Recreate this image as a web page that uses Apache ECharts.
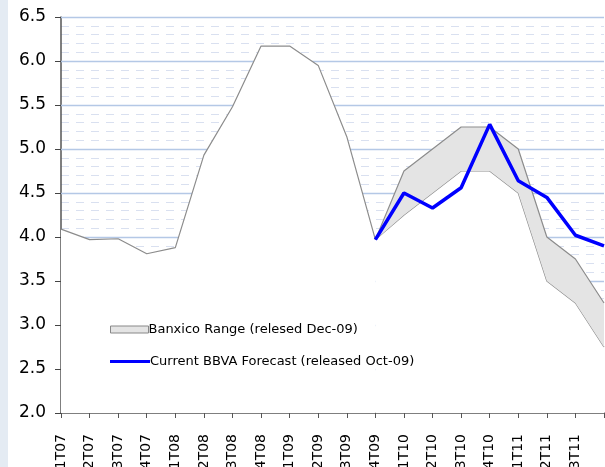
<!DOCTYPE html>
<html>
<head>
<meta charset="utf-8">
<script src="https://cdn.jsdelivr.net/npm/echarts@6/dist/echarts.min.js"></script>
<style>
  html, body { margin: 0; padding: 0; background: #fff; }
  #chart { width: 605px; height: 467px; }
</style>
</head>
<body>
<div id="chart"></div>
<script>
// quarters shown on the x axis
var quarters = ["1T07", "2T07", "3T07", "4T07", "1T08", "2T08", "3T08", "4T08",
  "1T09", "2T09", "3T09", "4T09", "1T10", "2T10", "3T10", "4T10",
  "1T11", "2T11", "3T11", "4T11"];

// observed rate up to 4T09 (named so it does not clash with window.history)
var observed = [4.09, 3.97, 3.98, 3.81, 3.88, 4.93, 5.48, 6.17, 6.17, 5.95, 5.14, 3.97,
  "-", "-", "-", "-", "-", "-", "-", "-"];

// Banxico range (relesed Dec-09)
var banxicoLow = ["-", "-", "-", "-", "-", "-", "-", "-", "-", "-", "-",
  3.97, 4.25, 4.5, 4.75, 4.75, 4.5, 3.5, 3.25, 2.75];
var banxicoHigh = ["-", "-", "-", "-", "-", "-", "-", "-", "-", "-", "-",
  3.97, 4.75, 5.0, 5.25, 5.25, 5.0, 4.0, 3.75, 3.25];

// BBVA forecast (released Oct-09)
var bbva = ["-", "-", "-", "-", "-", "-", "-", "-", "-", "-", "-",
  3.97, 4.5, 4.33, 4.56, 5.28, 4.64, 4.45, 4.02, 3.9];

var yTicks = [2.0, 2.5, 3.0, 3.5, 4.0, 4.5, 5.0, 5.5, 6.0, 6.5];

var bandWidth = banxicoHigh.map(function (v, i) {
  return v === "-" ? "-" : +(v - banxicoLow[i]).toFixed(3);
});

// major gridlines, drawn as mark lines under the filled areas
var gridLines = yTicks.slice(1).map(function (v) { return { yAxis: v }; });

var FONT = "DejaVu Sans";
var chart = echarts.init(document.getElementById("chart"), null, { renderer: "canvas" });

chart.setOption({
  animation: false,
  backgroundColor: "#fff",
  graphic: [{
    type: "rect",
    shape: { x: 0, y: 0, width: 8, height: 467 },
    style: { fill: "#e4ebf3" },
    silent: true
  }],
  grid: { left: 61, right: 1, top: 17, bottom: 54, outerBoundsMode: "none" },
  legend: [{
    left: 105, top: 318,
    itemWidth: 38, itemHeight: 7,
    icon: "rect",
    textStyle: { fontFamily: FONT, fontSize: 13, color: "#000", padding: [0, 0, 0, -5] },
    data: [{ name: "Banxico Range (relesed Dec-09)",
      itemStyle: { color: "#e4e4e4", borderColor: "#888", borderWidth: 1 } }]
  }, {
    left: 105, top: 350,
    itemWidth: 40, itemHeight: 3,
    icon: "rect",
    textStyle: { fontFamily: FONT, fontSize: 13, color: "#000", padding: [0, 0, 0, -5] },
    data: [{ name: "Current BBVA Forecast (released Oct-09)",
      itemStyle: { color: "#0000ff", borderWidth: 0 } }]
  }],
  xAxis: {
    type: "category",
    data: quarters,
    boundaryGap: false,
    axisLine: { lineStyle: { color: "#555", width: 1.5 } },
    axisTick: { show: true, length: 5, alignWithLabel: true, lineStyle: { color: "#555" } },
    axisLabel: {
      rotate: 90, margin: 21, fontFamily: FONT, fontSize: 14, color: "#000",
      interval: 0,
      formatter: function (v, i) { return i === quarters.length - 1 ? "" : v; }
    },
    splitLine: { show: false }
  },
  yAxis: {
    type: "value",
    min: yTicks[0],
    max: yTicks[yTicks.length - 1],
    interval: 0.5,
    axisLine: { show: true, lineStyle: { color: "#555", width: 1.5 } },
    axisTick: { show: true, inside: false, length: 6, lineStyle: { color: "#444" } },
    axisLabel: {
      fontFamily: FONT, fontSize: 17, color: "#000", margin: 15,
      formatter: function (v) { return v.toFixed(1); }
    },
    splitLine: { show: false },
    minorTick: { show: false, splitNumber: 5 },
    minorSplitLine: { show: true, lineStyle: { color: "#d9e0f0", type: [8, 7], width: 1 } }
  },
  series: [{
    name: "grid",
    type: "line",
    data: [],
    silent: true,
    z: 1,
    markLine: {
      silent: true,
      z: 1,
      symbol: "none",
      label: { show: false },
      lineStyle: { color: "#b4c8e6", type: "solid", width: 1.3 },
      data: gridLines
    }
  }, {
    name: "observed",
    type: "line",
    data: observed,
    symbol: "none",
    lineStyle: { color: "#8c8c8c", width: 1.2 },
    areaStyle: { color: "#fff", opacity: 1 },
    z: 2
  }, {
    name: "low",
    type: "line",
    stack: "band",
    data: banxicoLow,
    symbol: "none",
    lineStyle: { color: "#8c8c8c", width: 1.2 },
    areaStyle: { color: "#fff", opacity: 1 },
    z: 2
  }, {
    name: "Banxico Range (relesed Dec-09)",
    type: "line",
    stack: "band",
    data: bandWidth,
    symbol: "none",
    lineStyle: { color: "#8c8c8c", width: 1.2 },
    areaStyle: { color: "#e4e4e4", opacity: 1 },
    z: 3
  }, {
    name: "Current BBVA Forecast (released Oct-09)",
    type: "line",
    data: bbva,
    symbol: "none",
    lineStyle: { color: "#0000ff", width: 3.5 },
    z: 4
  }]
});
</script>
</body>
</html>
